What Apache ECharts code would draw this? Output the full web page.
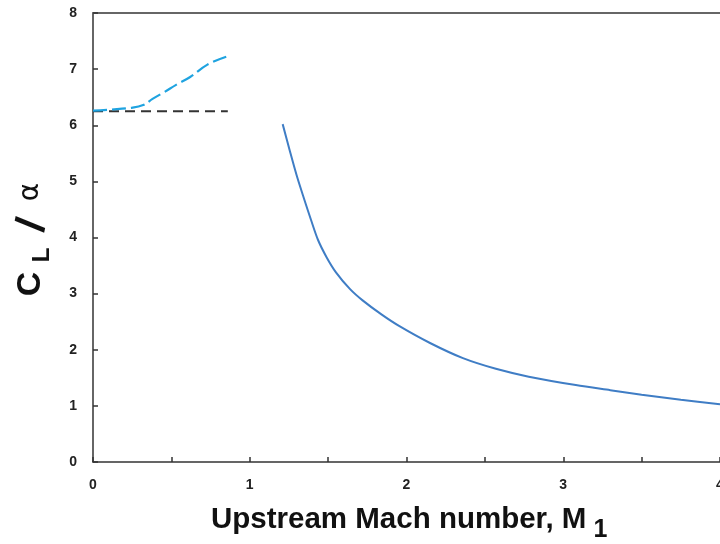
<!DOCTYPE html>
<html>
<head>
<meta charset="utf-8">
<script src="https://cdn.jsdelivr.net/npm/echarts@6/dist/echarts.min.js"></script>
<style>
  html, body { margin: 0; padding: 0; background: #fff; }
  #chart { width: 720px; height: 544px; }
</style>
</head>
<body>
<div id="chart"></div>
<script>
// values: [Mach number, CL/alpha]
var subsonicFlat = [[0, 6.25], [0.86, 6.25]];
var subsonicCorrected = [
  [0, 6.26], [0.12, 6.28], [0.24, 6.31], [0.32, 6.36], [0.38, 6.47],
  [0.46, 6.6], [0.53, 6.72], [0.62, 6.86], [0.73, 7.08], [0.85, 7.22]
];
var supersonic = [
  [1.21, 6.02], [1.255, 5.55], [1.30, 5.1], [1.35, 4.66], [1.39, 4.32],
  [1.435, 3.96], [1.49, 3.65], [1.55, 3.38], [1.64, 3.08], [1.72, 2.88],
  [1.84, 2.63], [1.955, 2.42], [2.15, 2.12], [2.36, 1.85], [2.57, 1.66],
  [2.78, 1.52], [3.08, 1.37], [3.3, 1.28], [3.5, 1.2], [3.75, 1.11],
  [4.0, 1.03]
];
var xTicks = [0, 1, 2, 3, 4];
var yTicks = [0, 1, 2, 3, 4, 5, 6, 7, 8];

var chart = echarts.init(document.getElementById('chart'));
var axisColor = '#333';
var sans = 'Liberation Sans, Arial, sans-serif';
var labelFont = {
  color: '#222',
  fontFamily: sans,
  fontWeight: 'bold',
  fontSize: 14
};

function yTitlePart(text, x, y, size, family, weight, extraRot) {
  return {
    type: 'text',
    x: x,
    y: y,
    rotation: Math.PI / 2 + (extraRot || 0),
    style: {
      text: text,
      fontFamily: family,
      fontWeight: weight,
      fontSize: size,
      fill: '#111',
      align: 'center',
      verticalAlign: 'middle'
    }
  };
}

chart.setOption({
  animation: false,
  grid: { left: 93, right: 0, top: 13, bottom: 82, containLabel: false, outerBoundsMode: 'none' },
  xAxis: [{
    type: 'value',
    min: 0,
    max: xTicks[xTicks.length - 1],
    interval: 0.5,
    axisLine: { lineStyle: { color: axisColor, width: 1.5 } },
    axisTick: { inside: true, length: 5, lineStyle: { color: axisColor, width: 1.5 } },
    splitLine: { show: false },
    axisLabel: Object.assign({
      margin: 16,
      formatter: function (v) { return xTicks.indexOf(v) >= 0 ? v : ''; }
    }, labelFont)
  }, {
    type: 'value',
    position: 'top',
    min: 0,
    max: 4,
    axisLine: { show: true, lineStyle: { color: '#666', width: 2 } },
    axisTick: { show: false },
    axisLabel: { show: false },
    splitLine: { show: false }
  }],
  yAxis: {
    type: 'value',
    min: yTicks[0],
    max: yTicks[yTicks.length - 1],
    interval: 1,
    axisLine: { show: true, lineStyle: { color: axisColor, width: 1.5 } },
    axisTick: { show: true, inside: true, length: 5, lineStyle: { color: axisColor, width: 1.5 } },
    splitLine: { show: false },
    axisLabel: Object.assign({ margin: 16 }, labelFont)
  },
  graphic: [{
    type: 'text',
    left: 211,
    top: 505,
    style: {
      text: '{t|Upstream Mach number, M}{s|1}',
      rich: {
        t: { fontFamily: sans, fontWeight: 'bold', fontSize: 29.5, fill: '#111' },
        s: { fontFamily: sans, fontWeight: 'bold', fontSize: 25, fill: '#111', padding: [20, 0, 0, 7] }
      }
    }
  },
  yTitlePart('C', 31, 284, 34, sans, 'bold'),
  yTitlePart('L', 42, 255, 24, sans, 'bold'),
  yTitlePart('/', 33, 225, 42, sans, 'bold', -0.2),
  yTitlePart('α', 31, 192, 28, 'DejaVu Sans, sans-serif', 'normal')
  ],
  series: [{
    name: 'flat',
    type: 'line',
    data: subsonicFlat,
    symbol: 'none',
    lineStyle: { color: '#333', width: 2, type: [10, 6] }
  }, {
    name: 'corrected',
    type: 'line',
    data: subsonicCorrected,
    smooth: 0.4,
    symbol: 'none',
    lineStyle: { color: '#1fa3e0', width: 2.2, type: [14, 5] }
  }, {
    name: 'supersonic',
    type: 'line',
    data: supersonic,
    smooth: 0.3,
    symbol: 'none',
    lineStyle: { color: '#3f7dc5', width: 2 }
  }]
});
</script>
</body>
</html>
